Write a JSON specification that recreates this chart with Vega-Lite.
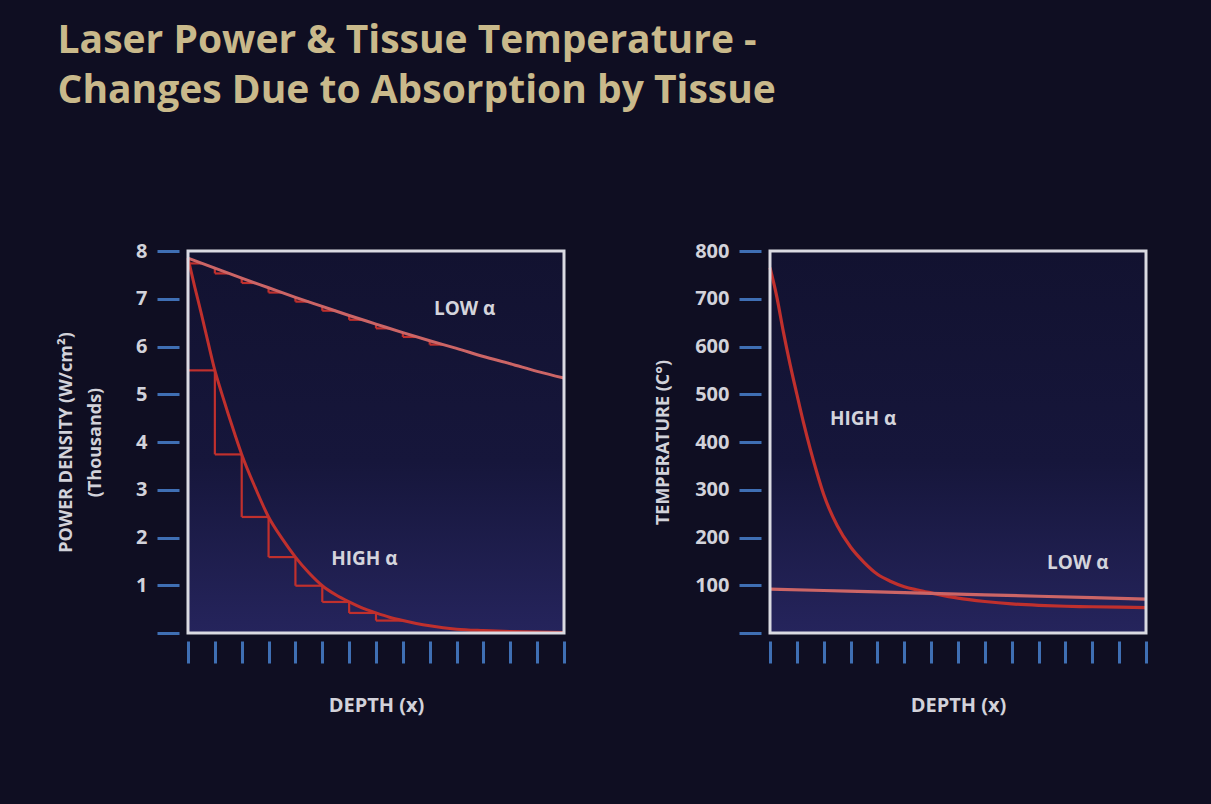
{
  "$schema": "https://vega.github.io/schema/vega-lite/v6.json",
  "background": "#0f0e22",
  "padding": {"left": 57, "top": 22, "right": 60, "bottom": 92},
  "title": {
    "text": ["Laser Power & Tissue Temperature -", "Changes Due to Absorption by Tissue"],
    "anchor": "start",
    "frame": "bounds",
    "font": "Open Sans",
    "fontSize": 39,
    "fontWeight": "bold",
    "color": "#c9b98b",
    "lineHeight": 50,
    "offset": 130
  },
  "datasets": {
    "frame": [{}],
    "power": [
      {"series": "high", "depth": 0, "value": 7.85},
      {"series": "high", "depth": 0.25, "value": 7.25},
      {"series": "high", "depth": 0.5, "value": 6.68},
      {"series": "high", "depth": 0.75, "value": 6.08},
      {"series": "high", "depth": 1, "value": 5.5},
      {"series": "high", "depth": 1.25, "value": 5.03},
      {"series": "high", "depth": 1.5, "value": 4.58},
      {"series": "high", "depth": 1.75, "value": 4.15},
      {"series": "high", "depth": 2, "value": 3.74},
      {"series": "high", "depth": 2.5, "value": 3.05},
      {"series": "high", "depth": 3, "value": 2.43},
      {"series": "high", "depth": 3.5, "value": 1.98},
      {"series": "high", "depth": 4, "value": 1.59},
      {"series": "high", "depth": 4.5, "value": 1.26},
      {"series": "high", "depth": 5, "value": 0.99},
      {"series": "high", "depth": 5.5, "value": 0.8},
      {"series": "high", "depth": 6, "value": 0.65},
      {"series": "high", "depth": 6.5, "value": 0.52},
      {"series": "high", "depth": 7, "value": 0.42},
      {"series": "high", "depth": 7.5, "value": 0.33},
      {"series": "high", "depth": 8, "value": 0.26},
      {"series": "high", "depth": 8.5, "value": 0.2},
      {"series": "high", "depth": 9, "value": 0.15},
      {"series": "high", "depth": 9.5, "value": 0.11},
      {"series": "high", "depth": 10, "value": 0.08},
      {"series": "high", "depth": 11, "value": 0.05},
      {"series": "high", "depth": 12, "value": 0.03},
      {"series": "high", "depth": 13, "value": 0.02},
      {"series": "high", "depth": 14, "value": 0.01},
      {"series": "low", "depth": 0, "value": 7.85},
      {"series": "low", "depth": 1, "value": 7.64},
      {"series": "low", "depth": 2, "value": 7.43},
      {"series": "low", "depth": 3, "value": 7.23},
      {"series": "low", "depth": 4, "value": 7.03},
      {"series": "low", "depth": 5, "value": 6.84},
      {"series": "low", "depth": 6, "value": 6.65},
      {"series": "low", "depth": 7, "value": 6.47},
      {"series": "low", "depth": 8, "value": 6.29},
      {"series": "low", "depth": 9, "value": 6.12},
      {"series": "low", "depth": 10, "value": 5.96},
      {"series": "low", "depth": 11, "value": 5.79},
      {"series": "low", "depth": 12, "value": 5.64},
      {"series": "low", "depth": 13, "value": 5.48},
      {"series": "low", "depth": 14, "value": 5.34}
    ],
    "powerSteps": [
      {"series": "high", "x0": 0, "x1": 1, "top": 7.85, "bottom": 5.5},
      {"series": "high", "x0": 1, "x1": 2, "top": 5.5, "bottom": 3.74},
      {"series": "high", "x0": 2, "x1": 3, "top": 3.74, "bottom": 2.43},
      {"series": "high", "x0": 3, "x1": 4, "top": 2.43, "bottom": 1.59},
      {"series": "high", "x0": 4, "x1": 5, "top": 1.59, "bottom": 0.99},
      {"series": "high", "x0": 5, "x1": 6, "top": 0.99, "bottom": 0.65},
      {"series": "high", "x0": 6, "x1": 7, "top": 0.65, "bottom": 0.42},
      {"series": "high", "x0": 7, "x1": 8, "top": 0.42, "bottom": 0.26},
      {"series": "low", "x0": 0, "x1": 0.5, "top": 7.85, "bottom": 7.74},
      {"series": "low", "x0": 1, "x1": 1.5, "top": 7.64, "bottom": 7.53},
      {"series": "low", "x0": 2, "x1": 2.5, "top": 7.43, "bottom": 7.33},
      {"series": "low", "x0": 3, "x1": 3.5, "top": 7.23, "bottom": 7.13},
      {"series": "low", "x0": 4, "x1": 4.5, "top": 7.03, "bottom": 6.94},
      {"series": "low", "x0": 5, "x1": 5.5, "top": 6.84, "bottom": 6.75},
      {"series": "low", "x0": 6, "x1": 6.5, "top": 6.65, "bottom": 6.56},
      {"series": "low", "x0": 7, "x1": 7.5, "top": 6.47, "bottom": 6.38},
      {"series": "low", "x0": 8, "x1": 8.5, "top": 6.29, "bottom": 6.2},
      {"series": "low", "x0": 9, "x1": 9.5, "top": 6.12, "bottom": 6.04}
    ],
    "powerLabels": [
      {"text": "LOW α", "depth": 10.3, "value": 6.79},
      {"text": "HIGH α", "depth": 6.57, "value": 1.55}
    ],
    "temp": [
      {"series": "high", "depth": 0, "value": 765},
      {"series": "high", "depth": 0.25, "value": 705},
      {"series": "high", "depth": 0.5, "value": 630},
      {"series": "high", "depth": 0.75, "value": 562},
      {"series": "high", "depth": 1, "value": 500},
      {"series": "high", "depth": 1.25, "value": 440},
      {"series": "high", "depth": 1.5, "value": 385},
      {"series": "high", "depth": 1.75, "value": 335},
      {"series": "high", "depth": 2, "value": 290},
      {"series": "high", "depth": 2.5, "value": 225},
      {"series": "high", "depth": 3, "value": 180},
      {"series": "high", "depth": 3.5, "value": 148},
      {"series": "high", "depth": 4, "value": 123},
      {"series": "high", "depth": 4.5, "value": 108},
      {"series": "high", "depth": 5, "value": 97},
      {"series": "high", "depth": 5.5, "value": 90},
      {"series": "high", "depth": 6, "value": 84},
      {"series": "high", "depth": 7, "value": 73},
      {"series": "high", "depth": 8, "value": 66},
      {"series": "high", "depth": 9, "value": 61},
      {"series": "high", "depth": 10, "value": 58},
      {"series": "high", "depth": 11, "value": 56},
      {"series": "high", "depth": 12, "value": 55},
      {"series": "high", "depth": 13, "value": 54},
      {"series": "high", "depth": 14, "value": 53},
      {"series": "low", "depth": 0, "value": 92},
      {"series": "low", "depth": 2, "value": 89},
      {"series": "low", "depth": 4, "value": 86},
      {"series": "low", "depth": 6, "value": 83},
      {"series": "low", "depth": 8, "value": 80},
      {"series": "low", "depth": 10, "value": 77},
      {"series": "low", "depth": 12, "value": 74},
      {"series": "low", "depth": 14, "value": 71}
    ],
    "tempLabels": [
      {"text": "HIGH α", "depth": 3.47, "value": 448},
      {"text": "LOW α", "depth": 11.46, "value": 147}
    ]
  },
  "config": {
    "font": "Open Sans",
    "view": {"stroke": null},
    "axis": {
      "grid": false,
      "domain": false,
      "tickColor": "#3f6fb4",
      "tickWidth": 3,
      "labelFont": "Open Sans",
      "labelFontWeight": "bold",
      "labelFontSize": 20,
      "labelColor": "#d2d2da",
      "titleFont": "Open Sans",
      "titleFontWeight": "bold",
      "titleFontSize": 18,
      "titleColor": "#d2d2da"
    },
    "axisY": {"offset": 9, "tickSize": 22, "labelPadding": 10},
    "axisX": {"offset": 8, "tickSize": 22, "labels": false, "titlePadding": 31, "titleFontSize": 20},
    "text": {"font": "Open Sans", "fontWeight": "bold", "fontSize": 19, "color": "#d4d4dc"}
  },
  "hconcat": [
    {
      "width": 376,
      "height": 382,
      "encoding": {
        "x": {"type": "quantitative", "scale": {"domain": [0, 14], "nice": false}, "axis": {"values": [0,1,2,3,4,5,6,7,8,9,10,11,12,13,14], "title": "DEPTH (x)"}},
        "y": {"type": "quantitative", "scale": {"domain": [0, 8], "nice": false}, "axis": {"values": [0,1,2,3,4,5,6,7,8], "labelExpr": "datum.value == 0 ? '' : datum.label", "title": ["POWER DENSITY (W/cm²)", "(Thousands)"], "titlePadding": 31, "titleLineHeight": 29}}
      },
      "layer": [
        {
          "data": {"name": "frame"},
          "mark": {"type": "rect", "color": {"gradient": "linear", "x1": 0, "y1": 0, "x2": 0, "y2": 1, "stops": [{"offset": 0, "color": "#121230"}, {"offset": 0.55, "color": "#16163b"}, {"offset": 1, "color": "#25245c"}]}},
          "encoding": {
            "x": {"datum": 0},
            "x2": {"datum": 14},
            "y": {"datum": 0},
            "y2": {"datum": 8}
          }
        },
        {
          "data": {"name": "powerSteps"},
          "mark": {"type": "rule", "color": "#c0302d", "strokeWidth": 2.2},
          "encoding": {
            "x": {"field": "x0"},
            "y": {"field": "top"},
            "y2": {"field": "bottom"}
          }
        },
        {
          "data": {"name": "powerSteps"},
          "mark": {"type": "rule", "color": "#c0302d", "strokeWidth": 2.2},
          "encoding": {
            "x": {"field": "x0"},
            "x2": {"field": "x1"},
            "y": {"field": "bottom"}
          }
        },
        {
          "data": {"name": "power"},
          "mark": {"type": "line", "interpolate": "monotone", "strokeWidth": 3},
          "encoding": {
            "x": {"field": "depth"},
            "y": {"field": "value"},
            "detail": {"field": "series"},
            "color": {"field": "series", "type": "nominal", "scale": {"domain": ["high", "low"], "range": ["#c0302d", "#cc6566"]}, "legend": null}
          }
        },
        {
          "data": {"name": "powerLabels"},
          "mark": {"type": "text"},
          "encoding": {
            "x": {"field": "depth"},
            "y": {"field": "value"},
            "text": {"field": "text"}
          }
        },
        {
          "data": {"name": "frame"},
          "mark": {"type": "rect", "filled": false, "stroke": "#dadae2", "strokeWidth": 3},
          "encoding": {
            "x": {"datum": 0},
            "x2": {"datum": 14},
            "y": {"datum": 0},
            "y2": {"datum": 8}
          }
        }
      ]
    },
    {
      "width": 376,
      "height": 382,
      "encoding": {
        "x": {"type": "quantitative", "scale": {"domain": [0, 14], "nice": false}, "axis": {"values": [0,1,2,3,4,5,6,7,8,9,10,11,12,13,14], "title": "DEPTH (x)"}},
        "y": {"type": "quantitative", "scale": {"domain": [0, 800], "nice": false}, "axis": {"values": [0,100,200,300,400,500,600,700,800], "labelExpr": "datum.value == 0 ? '' : datum.label", "title": "TEMPERATURE (C°)", "titlePadding": 22}}
      },
      "layer": [
        {
          "data": {"name": "frame"},
          "mark": {"type": "rect", "color": {"gradient": "linear", "x1": 0, "y1": 0, "x2": 0, "y2": 1, "stops": [{"offset": 0, "color": "#121230"}, {"offset": 0.55, "color": "#16163b"}, {"offset": 1, "color": "#25245c"}]}},
          "encoding": {
            "x": {"datum": 0},
            "x2": {"datum": 14},
            "y": {"datum": 0},
            "y2": {"datum": 800}
          }
        },
        {
          "data": {"name": "temp"},
          "mark": {"type": "line", "interpolate": "monotone", "strokeWidth": 3.2},
          "encoding": {
            "x": {"field": "depth"},
            "y": {"field": "value"},
            "detail": {"field": "series"},
            "color": {"field": "series", "type": "nominal", "scale": {"domain": ["high", "low"], "range": ["#c0302d", "#cc6566"]}, "legend": null}
          }
        },
        {
          "data": {"name": "tempLabels"},
          "mark": {"type": "text"},
          "encoding": {
            "x": {"field": "depth"},
            "y": {"field": "value"},
            "text": {"field": "text"}
          }
        },
        {
          "data": {"name": "frame"},
          "mark": {"type": "rect", "filled": false, "stroke": "#dadae2", "strokeWidth": 3},
          "encoding": {
            "x": {"datum": 0},
            "x2": {"datum": 14},
            "y": {"datum": 0},
            "y2": {"datum": 800}
          }
        }
      ]
    }
  ],
  "spacing": 84,
  "resolve": {"scale": {"color": "independent"}}
}
